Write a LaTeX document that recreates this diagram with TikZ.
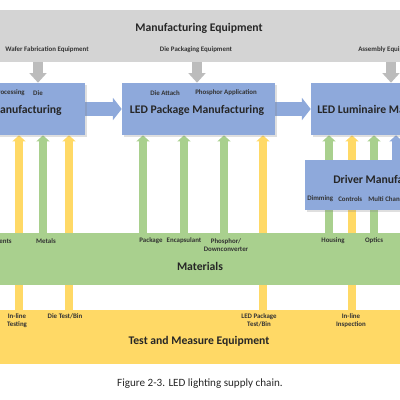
\documentclass[tikz,border=0pt]{standalone}
\usepackage{fontspec}
\setmainfont{Carlito}
\usetikzlibrary{arrows.meta,backgrounds,shadows}
\definecolor{eqgray}{RGB}{212,212,212}
\definecolor{arrgray}{RGB}{188,188,188}
\definecolor{mfblue}{RGB}{142,169,219}
\definecolor{matgreen}{RGB}{169,208,142}
\definecolor{tmyellow}{RGB}{255,217,102}

\begin{document}
\begin{tikzpicture}[x=0.025cm, y=-0.025cm,
    band/.style={minimum width=10.5cm, minimum height=1.3cm, inner sep=0pt},
    mfbox/.style={fill=mfblue, minimum height=1.3cm, inner sep=0pt,
        drop shadow={shadow xshift=0.4mm, shadow yshift=-0.4mm, opacity=0.25}},
    title/.style={font=\bfseries\fontsize{8.3}{10}\selectfont, text=black!85, inner sep=0pt},
    lbl/.style={font=\bfseries\fontsize{4.9}{5.7}\selectfont, text=black!80, inner sep=0pt, align=center},
    uparrow/.style={line width=0.2cm, -{Triangle[width=0.32cm,length=0.15cm]}},
    garrow/.style={uparrow, draw=matgreen},
    yarrow/.style={uparrow, draw=tmyellow},
    barrow/.style={uparrow, draw=mfblue},
    downarrow/.style={draw=arrgray, line width=0.27cm, -{Triangle[width=0.42cm,length=0.24cm]}},
    sidearrow/.style={draw=mfblue, line width=0.33cm, -{Triangle[width=0.55cm,length=0.22cm]}}
]
\useasboundingbox (0,0) rectangle (400,400);
\clip (0,0) rectangle (400,400);

% equipment band
\node[band, fill=eqgray] (ME) at (200,36) {};
\node[title] (MEt) at (199,28) {Manufacturing Equipment};
\node[lbl] (WF) at (47,50) {Wafer Fabrication Equipment};
\node[lbl] (DP) at (196,50) {Die Packaging Equipment};
\node[lbl, anchor=west] (AE) at (358,50) {Assembly Equipment};

% manufacturing steps
\node[mfbox, minimum width=2.625cm] (CM) at (32.5,109) {};
\node[mfbox, minimum width=3.825cm] (PM) at (198.5,109) {};
\node[mfbox, minimum width=2.975cm] (LM) at (370.5,109) {};
\node[title, anchor=east] (CMt) at (62,110) {Manufacturing};
\node[title] (PMt) at (197,110) {LED Package Manufacturing};
\node[title, anchor=west] (LMt) at (317,110) {LED Luminaire Manufacturing};
\node[lbl, anchor=east] (WP) at (25,93) {Processing};
\node[lbl] (DI) at (38,93) {Die};
\node[lbl] (DA) at (165,93) {Die Attach};
\node[lbl] (PA) at (226,93) {Phosphor Application};

\node[mfbox, minimum width=3.125cm, minimum height=1.25cm] (DM) at (367.5,185) {};
\node[title, anchor=west] (DMt) at (333,180) {Driver Manufacturing};
\node[lbl, anchor=west] (DIM) at (307,199) {Dimming};
\node[lbl, anchor=west] (CON) at (338,199) {Controls};
\node[lbl, anchor=west] (MC) at (368,199) {Multi Channel};

% materials band
\node[band, fill=matgreen] (MA) at (200,259) {};
\node[title] (MAt) at (200,266) {Materials};
\node[lbl, anchor=east] (EN) at (12,241) {ents};
\node[lbl] (ME1) at (46,241) {Metals};
\node[lbl] (PK) at (151,241) {Package};
\node[lbl] (EC) at (184,241) {Encapsulant};
\node[lbl, anchor=north] (PD) at (226,238) {Phosphor/\\Downconverter};
\node[lbl] (HO) at (333,241) {Housing};
\node[lbl] (OP) at (374,241) {Optics};

% test band
\node[band, minimum height=1.35cm, fill=tmyellow] (TM) at (200,337) {};
\node[title] (TMt) at (199,341) {Test and Measure Equipment};
\node[lbl, anchor=north] (IT) at (17,313) {In-line\\Testing};
\node[lbl] (DT) at (65,316) {Die Test/Bin};
\node[lbl, anchor=north] (PT) at (259,313) {LED Package\\Test/Bin};
\node[lbl, anchor=north] (II) at (351,313) {In-line\\Inspection};

% caption
\node[font=\fontsize{7.9}{9}\selectfont, text=black!85] (CAP) at (200,384) {Figure 2-3. LED lighting supply chain.};

\begin{pgfonlayer}{background}
    \coordinate (d1) at (38,0);
    \coordinate (d2) at (197,0);
    \coordinate (d3) at (391,0);
    \foreach \c/\b in {d1/CM, d2/PM, d3/LM}
        \draw[downarrow] (ME.south -| \c) -- (\b.north -| \c);
    \coordinate (g1) at (43,0);
    \coordinate (g2) at (143,0);
    \coordinate (g3) at (184,0);
    \coordinate (g4) at (224,0);
    \coordinate (g5) at (329,0);
    \coordinate (g6) at (374,0);
    \foreach \c/\b in {g1/CM, g2/PM, g3/PM, g4/PM, g5/LM, g6/LM}
        \draw[garrow] (MA.north -| \c) -- (\b.south -| \c);
    \coordinate (y1) at (19,0);
    \coordinate (y2) at (69,0);
    \coordinate (y3) at (263,0);
    \coordinate (y4) at (352,0);
    \foreach \c/\b in {y1/CM, y2/CM, y3/PM, y4/LM}
        \draw[yarrow] (TM.north -| \c) -- (\b.south -| \c);
    \coordinate (b1) at (396,0);
    \draw[barrow] (DM.north -| b1) -- (LM.south -| b1);
    \draw[sidearrow] (CM.east) -- (PM.west);
    \draw[sidearrow] (PM.east) -- (LM.west);
\end{pgfonlayer}
\end{tikzpicture}
\end{document}
